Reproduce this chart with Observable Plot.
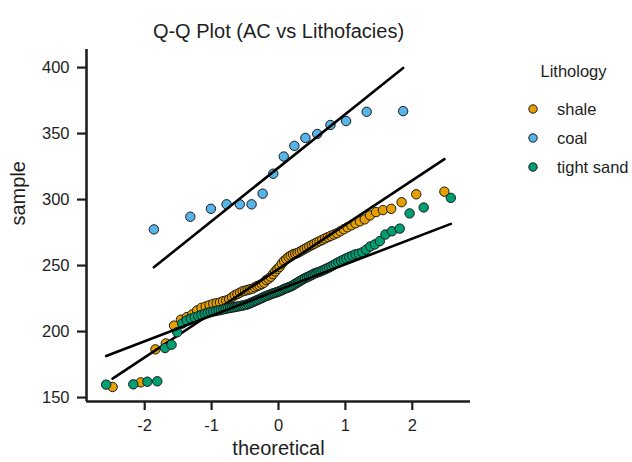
<!DOCTYPE html>
<html>
<head>
<meta charset="utf-8">
<script src="https://cdn.jsdelivr.net/npm/d3@7"></script>
<script src="https://cdn.jsdelivr.net/npm/@observablehq/plot@0.6"></script>
<style>
  body { margin: 0; background: #fff; font-family: "Liberation Sans", Arial, sans-serif; }
  #wrap { position: relative; width: 632px; height: 462px; overflow: hidden; }
  #chart svg { display: block; }
  #legend { position: absolute; left: 490px; top: 55px; }
</style>
</head>
<body>
<div id="wrap">
  <div id="chart"></div>
  <div id="legend"></div>
</div>
<script>
// ---- data ----
const chartTitle = "Q-Q Plot (AC vs Lithofacies)";
const xLabel = "theoretical";
const yLabel = "sample";
const legendTitle = "Lithology";
const lithologies = ["shale", "coal", "tight sand"];
const colors = ["#E69F00", "#56B4E9", "#009E73"];

const xTicks = [-2, -1, 0, 1, 2];
const yTicks = [150, 200, 250, 300, 350, 400];
const xDomain = [-2.87, 2.87];
const yDomain = [147, 413.7];

// sorted sample values (AC) per lithology
const shaleAC = [158, 161.5, 186.5, 191, 204.5, 209, 211, 213, 216, 218,
  219, 220, 221, 221.5, 222, 223, 223.5, 224.5, 226, 227.5,
  228.5, 229.5, 230.5, 231, 231.5, 232, 232.5, 233.5, 234.5, 235,
  236, 237, 239, 240, 241.5, 243.5, 245.5, 247.5, 249, 251.5,
  253.5, 255, 256.5, 257.5, 258.5, 259, 259.5, 260.5, 261.5, 262.5,
  263.5, 264.5, 265.5, 266.5, 267.5, 268.5, 269.5, 270.5, 271.5, 272.5,
  273.5, 274.5, 276, 277.5, 279, 280.5, 282, 283.5, 285, 288,
  290.5, 292, 293, 298, 304, 306];
const coalAC = [277.4, 287, 293, 296.4, 296.4, 296.4, 304.5, 319.6, 332.6, 340.7,
  346.7, 349.7, 356.5, 359.5, 366.5, 367];
const tightSandAC = [159.8, 160, 162, 162.3, 187.5, 190, 199.5, 206, 208.5, 209.8,
  210.8, 211.7, 212.6, 213.5, 214.2, 214.7, 215.2, 215.6, 216, 216.4,
  216.8, 217.2, 217.6, 217.9, 218.2, 218.5, 218.8, 219.1, 219.4, 219.7,
  220, 220.3, 220.8, 221.4, 222, 222.6, 223.2, 223.8, 224.4, 225,
  225.6, 226.3, 226.8, 227.3, 227.8, 228.3, 228.8, 229.2, 229.6, 230,
  230.5, 231, 231.6, 232.3, 232.8, 233.2, 233.8, 234.3, 235, 235.8,
  236.6, 237.4, 238.2, 239, 239.8, 240.5, 241.2, 241.8, 242.5, 243.2,
  244, 244.5, 245, 245.6, 246.3, 247, 247.8, 248.5, 249.5, 250.5,
  251.5, 252.5, 253.5, 254.5, 255.5, 256.5, 257.5, 258.5, 259, 260,
  262, 264.5, 266, 268.5, 273.5, 276, 278, 289.5, 294, 301.3];

// reference (fit) lines: end points
const shaleFitX = [-2.48, 2.48],   shaleFitY = [164.3, 330.6];
const coalFitX = [-1.863, 1.863],  coalFitY = [248.7, 399.7];
const tightFitX = [-2.576, 2.576], tightFitY = [181.5, 281.6];

// ---- Q-Q transform: theoretical normal quantiles (Hazen plotting positions) ----
function qnorm(p) {
  const a = [-3.969683028665376e+01, 2.209460984245205e+02, -2.759285104469687e+02, 1.383577518672690e+02, -3.066479806614716e+01, 2.506628277459239e+00];
  const b = [-5.447609879822406e+01, 1.615858368580409e+02, -1.556989798598866e+02, 6.680131188771972e+01, -1.328068155288572e+01];
  const c = [-7.784894002430293e-03, -3.223964580411365e-01, -2.400758277161838e+00, -2.549732539343734e+00, 4.374664141464968e+00, 2.938163982698783e+00];
  const d = [7.784695709041462e-03, 3.224671290700398e-01, 2.445134137142996e+00, 3.754408661907416e+00];
  const plow = 0.02425, phigh = 1 - plow;
  let q, r;
  if (p < plow) {
    q = Math.sqrt(-2 * Math.log(p));
    return (((((c[0]*q+c[1])*q+c[2])*q+c[3])*q+c[4])*q+c[5]) / ((((d[0]*q+d[1])*q+d[2])*q+d[3])*q+1);
  } else if (p <= phigh) {
    q = p - 0.5; r = q*q;
    return (((((a[0]*r+a[1])*r+a[2])*r+a[3])*r+a[4])*r+a[5])*q / (((((b[0]*r+b[1])*r+b[2])*r+b[3])*r+b[4])*r+1);
  } else {
    q = Math.sqrt(-2 * Math.log(1 - p));
    return -(((((c[0]*q+c[1])*q+c[2])*q+c[3])*q+c[4])*q+c[5]) / ((((d[0]*q+d[1])*q+d[2])*q+d[3])*q+1);
  }
}

const samples = [shaleAC, coalAC, tightSandAC];
const fits = [[shaleFitX, shaleFitY], [coalFitX, coalFitY], [tightFitX, tightFitY]];

const pointRows = lithologies.map((lith, k) => {
  const vals = samples[k], n = vals.length;
  return vals.map((v, i) => ({lith, theoretical: qnorm((i + 0.5) / n), sample: v}));
});
const lineRows = lithologies.map((lith, k) =>
  fits[k][0].map((x, i) => ({lith, theoretical: x, sample: fits[k][1][i]})));

const ink = "#1e1e1e";
const marks = [];
lithologies.forEach((lith, k) => {
  marks.push(Plot.dot(pointRows[k], {
    x: "theoretical", y: "sample", r: 4.7,
    fill: colors[k], stroke: "#1a1a1a", strokeWidth: 1
  }));
  marks.push(Plot.line(lineRows[k], {
    x: "theoretical", y: "sample", stroke: "#000", strokeWidth: 2.6
  }));
});

const chart = Plot.plot({
  width: 632,
  height: 462,
  marginLeft: 86,
  marginRight: 162,
  marginTop: 49,
  marginBottom: 61,
  style: {fontFamily: '"Liberation Sans", Arial, sans-serif', background: "#fff", color: ink, overflow: "visible"},
  x: {domain: xDomain},
  y: {domain: yDomain},
  marks: [
    Plot.axisX({ticks: xTicks, tickSize: 9, tickPadding: 9, strokeWidth: 2.2, stroke: ink, fill: ink, label: null, tickFormat: d => String(d)}),
    Plot.axisY({ticks: yTicks, tickSize: 9, tickPadding: 8, strokeWidth: 2.2, stroke: ink, fill: ink, label: null, tickFormat: d => String(d)}),
    Plot.ruleX([xDomain[0]], {stroke: ink, strokeWidth: 2.6}),
    Plot.ruleY([yDomain[0]], {stroke: ink, strokeWidth: 2.6}),
    ...marks,
    Plot.text([chartTitle], {frameAnchor: "top", dy: -26, fontSize: 20, fill: ink}),
    Plot.text([xLabel], {frameAnchor: "bottom", dy: 53, fontSize: 20, fill: ink}),
    Plot.text([yLabel], {frameAnchor: "left", dx: -68, rotate: -90, fontSize: 20, fill: ink})
  ]
});
// enlarge tick labels to match the reference
d3.select(chart).selectAll('g[aria-label$="tick label"]')
  .attr("font-size", 16.5).style("font-size", "16.5px");
document.getElementById("chart").appendChild(chart);

// ---- legend ----
const leg = d3.select("#legend").append("svg").attr("width", 142).attr("height", 130)
  .style("font-family", '"Liberation Sans", Arial, sans-serif');
leg.append("text").attr("x", 83.5).attr("y", 22).attr("text-anchor", "middle")
  .attr("font-size", 16.5).attr("fill", ink).text(legendTitle);
lithologies.forEach((lith, k) => {
  const cy = 54 + k * 29;
  leg.append("circle").attr("cx", 43).attr("cy", cy).attr("r", 4.2)
    .attr("fill", colors[k]).attr("stroke", "#1a1a1a").attr("stroke-width", 1);
  leg.append("text").attr("x", 67).attr("y", cy + 6).attr("font-size", 16.5)
    .attr("fill", ink).text(lith);
});
</script>
</body>
</html>
